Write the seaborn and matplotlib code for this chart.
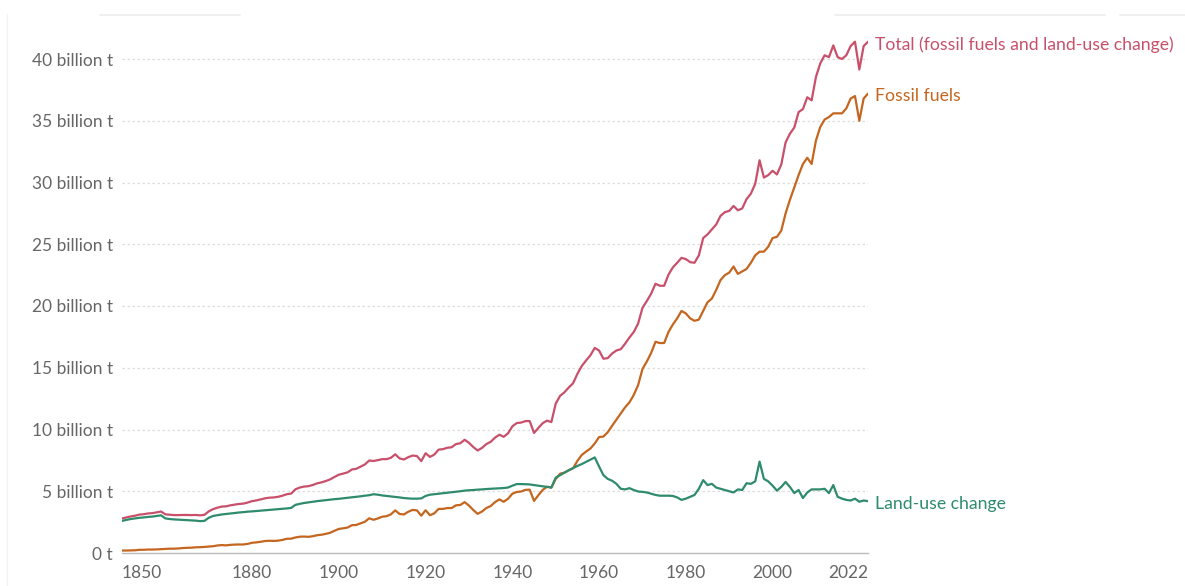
import numpy as np
import pandas as pd
import seaborn as sns
import matplotlib.pyplot as plt
from matplotlib.lines import Line2D

# Annual CO2 emissions, billion tonnes, 1850-2022
years = list(range(1850, 2023))

fossil = [
    0.20, 0.20, 0.21, 0.22, 0.26, 0.26, 0.28, 0.28, 0.29, 0.31,
    0.33, 0.35, 0.35, 0.37, 0.40, 0.42, 0.43, 0.46, 0.47, 0.49,
    0.52, 0.55, 0.61, 0.64, 0.62, 0.66, 0.68, 0.69, 0.69, 0.74,
    0.83, 0.86, 0.91, 0.97, 0.99, 0.98, 1.00, 1.06, 1.15, 1.16,
    1.26, 1.32, 1.33, 1.31, 1.36, 1.44, 1.48, 1.55, 1.64, 1.80,
    1.95, 2.00, 2.06, 2.25, 2.27, 2.40, 2.53, 2.81, 2.69, 2.80,
    2.94, 2.98, 3.13, 3.45, 3.16, 3.12, 3.34, 3.49, 3.45, 3.02,
    3.46, 3.06, 3.21, 3.57, 3.57, 3.64, 3.64, 3.86, 3.89, 4.12,
    3.84, 3.48, 3.17, 3.36, 3.64, 3.80, 4.12, 4.34, 4.15, 4.39,
    4.80, 4.94, 4.98, 5.11, 5.13, 4.22, 4.68, 5.11, 5.37, 5.30,
    6.00, 6.42, 6.51, 6.70, 6.86, 7.46, 7.94, 8.21, 8.46, 8.87,
    9.39, 9.43, 9.78, 10.3, 10.8, 11.3, 11.8, 12.2, 12.8, 13.6,
    14.9, 15.5, 16.2, 17.1, 17.0, 17.0, 17.9, 18.5, 19.0, 19.6,
    19.4, 19.0, 18.8, 18.9, 19.6, 20.3, 20.6, 21.3, 22.1, 22.5,
    22.7, 23.2, 22.6, 22.8, 23.0, 23.5, 24.1, 24.4, 24.4, 24.8,
    25.5, 25.6, 26.1, 27.5, 28.6, 29.6, 30.6, 31.5, 32.0, 31.5,
    33.4, 34.5, 35.1, 35.3, 35.6, 35.6, 35.6, 36.0, 36.8, 37.0,
    35.0, 36.8, 37.2,
]

land_use = [
    2.60, 2.68, 2.75, 2.80, 2.85, 2.88, 2.92, 2.95, 3.00, 3.05,
    2.80, 2.75, 2.72, 2.70, 2.68, 2.66, 2.64, 2.62, 2.58, 2.60,
    2.85, 3.00, 3.06, 3.12, 3.16, 3.20, 3.24, 3.28, 3.31, 3.35,
    3.37, 3.40, 3.43, 3.46, 3.49, 3.52, 3.55, 3.58, 3.61, 3.65,
    3.90, 3.98, 4.05, 4.10, 4.15, 4.20, 4.24, 4.28, 4.32, 4.36,
    4.39, 4.43, 4.47, 4.51, 4.55, 4.59, 4.64, 4.68, 4.76, 4.72,
    4.66, 4.62, 4.58, 4.54, 4.50, 4.45, 4.42, 4.40, 4.40, 4.42,
    4.62, 4.72, 4.76, 4.80, 4.84, 4.88, 4.92, 4.96, 5.00, 5.05,
    5.08, 5.10, 5.13, 5.15, 5.18, 5.20, 5.22, 5.24, 5.26, 5.30,
    5.45, 5.58, 5.58, 5.57, 5.55, 5.50, 5.45, 5.40, 5.35, 5.30,
    6.10, 6.30, 6.50, 6.70, 6.88, 7.05, 7.20, 7.38, 7.55, 7.74,
    7.00, 6.30, 6.00, 5.85, 5.60, 5.20, 5.15, 5.25, 5.10, 4.98,
    4.95, 4.90, 4.80, 4.70, 4.64, 4.64, 4.64, 4.62, 4.50, 4.30,
    4.40, 4.55, 4.70, 5.20, 5.90, 5.50, 5.60, 5.30, 5.20, 5.10,
    5.00, 4.90, 5.15, 5.10, 5.65, 5.60, 5.80, 7.40, 6.00, 5.80,
    5.45, 5.05, 5.35, 5.75, 5.35, 4.85, 5.10, 4.45, 4.90, 5.15,
    5.15, 5.15, 5.20, 4.85, 5.50, 4.55, 4.40, 4.30, 4.25, 4.40,
    4.15, 4.25, 4.20,
]

total = [
    2.80, 2.88, 2.96, 3.02, 3.11, 3.14, 3.20, 3.23, 3.29, 3.36,
    3.13, 3.10, 3.07, 3.07, 3.08, 3.08, 3.07, 3.08, 3.05, 3.09,
    3.37, 3.55, 3.67, 3.76, 3.78, 3.86, 3.92, 3.97, 4.00, 4.09,
    4.20, 4.26, 4.34, 4.43, 4.48, 4.50, 4.55, 4.64, 4.76, 4.81,
    5.16, 5.30, 5.38, 5.41, 5.51, 5.64, 5.72, 5.83, 5.96, 6.16,
    6.34, 6.43, 6.53, 6.76, 6.82, 6.99, 7.17, 7.49, 7.45, 7.52,
    7.60, 7.60, 7.71, 7.99, 7.66, 7.57, 7.76, 7.89, 7.85, 7.44,
    8.08, 7.78, 7.97, 8.37, 8.41, 8.52, 8.56, 8.82, 8.89, 9.17,
    8.92, 8.58, 8.30, 8.51, 8.82, 9.00, 9.34, 9.58, 9.41, 9.69,
    10.25, 10.52, 10.56, 10.68, 10.68, 9.72, 10.13, 10.51, 10.72, 10.60,
    12.10, 12.72, 13.01, 13.40, 13.74, 14.51, 15.14, 15.59, 16.01, 16.61,
    16.39, 15.73, 15.78, 16.15, 16.40, 16.50, 16.95, 17.45, 17.90, 18.58,
    19.85, 20.40, 21.00, 21.80, 21.64, 21.64, 22.54, 23.12, 23.50, 23.90,
    23.80, 23.55, 23.50, 24.10, 25.50, 25.80, 26.20, 26.60, 27.30, 27.60,
    27.70, 28.10, 27.75, 27.90, 28.65, 29.10, 29.90, 31.80, 30.40, 30.60,
    30.95, 30.65, 31.45, 33.25, 33.95, 34.45, 35.70, 35.95, 36.90, 36.65,
    38.55, 39.65, 40.30, 40.15, 41.10, 40.15, 40.00, 40.30, 41.05, 41.40,
    39.15, 41.05, 41.40,
]

series_names = ["Total (fossil fuels and land-use change)", "Fossil fuels", "Land-use change"]
colors = ["#c8506b", "#c4661f", "#2e8b6b"]
x_ticks = [1850, 1880, 1900, 1920, 1940, 1960, 1980, 2000, 2022]
y_ticks = [0, 5, 10, 15, 20, 25, 30, 35, 40]
y_tick_labels = ["0 t"] + [f"{v} billion t" for v in y_ticks[1:]]

df = pd.concat([
    pd.DataFrame({"year": years, "value": vals, "series": name})
    for name, vals in zip(series_names, [total, fossil, land_use])
])

sns.set_style("white")
plt.rcParams["font.family"] = ["Lato", "DejaVu Sans"]

fig = plt.figure(figsize=(11.85, 5.86), dpi=100)
ax = fig.add_axes([122 / 1185, 33 / 586, 746 / 1185, 518.7 / 586])

sns.lineplot(data=df, x="year", y="value", hue="series", hue_order=series_names,
             palette=colors, linewidth=1.6, legend=False, ax=ax)

ax.set_xlim(1850, 2022)
ax.set_ylim(0, 42)
ax.set_xlabel("")
ax.set_ylabel("")

for v in y_ticks[1:]:
    ax.axhline(v, color="#dddddd", linewidth=0.9, linestyle=(0, (2, 2)), zorder=0)

for s in ["top", "right", "left"]:
    ax.spines[s].set_visible(False)
ax.spines["bottom"].set_color("#bbbbbb")
ax.spines["bottom"].set_linewidth(1)

ax.set_yticks(y_ticks)
ax.set_yticklabels(y_tick_labels)
ax.set_xticks(x_ticks)
ax.set_xticklabels([str(t) for t in x_ticks])
ax.tick_params(axis="y", length=0, pad=6.5, labelsize=12.5, labelcolor="#666666")
ax.tick_params(axis="x", length=5, width=1, color="#bbbbbb", pad=4,
               labelsize=12.5, labelcolor="#666666")
xl = ax.get_xticklabels()
xl[0].set_horizontalalignment("left")
xl[-1].set_horizontalalignment("right")

# line end labels
for name, vals, c in zip(series_names, [total, fossil, land_use], colors):
    ax.annotate(name, xy=(years[-1], vals[-1]), xytext=(5, -2), textcoords="offset points",
                va="center", ha="left", color=c, fontsize=12.7, annotation_clip=False)

# faint remnants of the page chrome above the chart
for x0, x1 in [(100, 240), (835, 1105), (1120, 1185)]:
    fig.add_artist(Line2D([x0 / 1185, x1 / 1185], [1 - 15 / 586] * 2,
                          color="#eeeeee", linewidth=1.2))
fig.add_artist(Line2D([7 / 1185] * 2, [0, 1 - 14 / 586], color="#f3f3f3", linewidth=1))

fig.savefig("out.png", dpi=100, facecolor="white")
